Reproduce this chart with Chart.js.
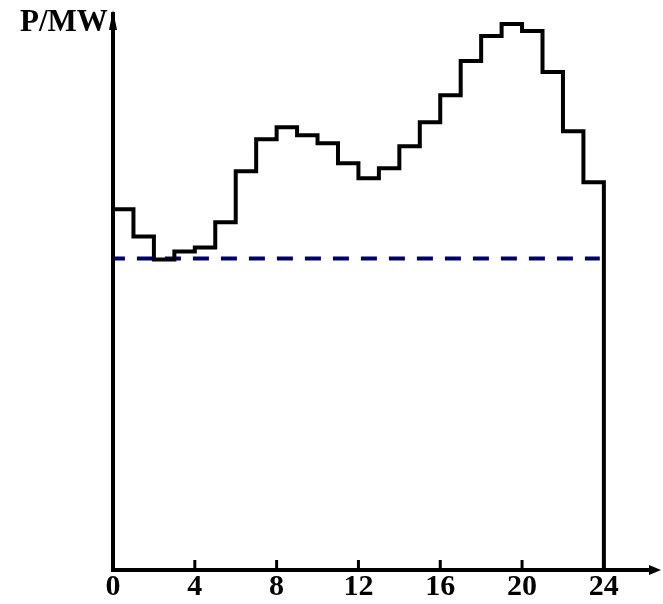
<!DOCTYPE html>
<html>
<head>
<meta charset="utf-8">
<script src="https://cdn.jsdelivr.net/npm/chart.js@4.4.1/dist/chart.umd.min.js"></script>
<style>
  html, body { margin: 0; padding: 0; background: #fff; }
  #wrap { width: 663px; height: 604px; }
</style>
</head>
<body>
<div id="wrap"><canvas id="load-chart"></canvas></div>
<script>
// hourly load, one value per hour 0..23
var hours = [0,1,2,3,4,5,6,7,8,9,10,11,12,13,14,15,16,17,18,19,20,21,22,23];
var load = [72, 66.6, 62, 63.6, 64.4, 69.4, 79.6, 86, 88.4, 86.8, 85.2, 81.2,
            78.2, 80.2, 84.6, 89.4, 94.8, 101.6, 106.6, 109, 107.6, 99.4, 87.6, 77.4];
var avgLoad = 62.2;
var xTicks = [0, 4, 8, 12, 16, 20, 24];
var yLabel = "P/MW";

var stepPoints = hours.map(function (h, i) { return { x: h, y: load[i] }; });
stepPoints.push({ x: 24, y: load[load.length - 1] });
stepPoints.push({ x: 24, y: 0 });

var axisArrows = {
  id: "axisArrows",
  afterDraw: function (chart) {
    var ctx = chart.ctx;
    var a = chart.chartArea;
    var xs = chart.scales.x;
    ctx.save();
    ctx.fillStyle = "#000";
    ctx.strokeStyle = "#000";
    // y arrow
    ctx.beginPath();
    ctx.moveTo(a.left, a.top - 4);
    ctx.lineTo(a.left - 4, a.top + 16);
    ctx.lineTo(a.left + 4, a.top + 16);
    ctx.closePath();
    ctx.fill();
    // x arrow
    ctx.beginPath();
    ctx.moveTo(a.right + 6, a.bottom);
    ctx.lineTo(a.right - 6, a.bottom - 5);
    ctx.lineTo(a.right - 6, a.bottom + 5);
    ctx.closePath();
    ctx.fill();
    // inward tick marks
    ctx.lineWidth = 3;
    xTicks.forEach(function (t) {
      if (t === 0) return;
      var px = xs.getPixelForValue(t);
      ctx.beginPath();
      ctx.moveTo(px, a.bottom);
      ctx.lineTo(px, a.bottom - 10);
      ctx.stroke();
    });
    // axis name
    ctx.font = "bold 31px 'Liberation Serif'";
    ctx.textBaseline = "top";
    ctx.textAlign = "left";
    ctx.fillText(yLabel, 20, 7);
    ctx.restore();
  }
};

var config = {
  type: "line",
  data: {
    datasets: [
      {
        label: "P",
        data: stepPoints,
        stepped: "before",
        borderColor: "#000",
        borderWidth: 4,
        pointRadius: 0,
        fill: false
      },
      {
        label: "avg",
        data: [{ x: -0.2, y: avgLoad }, { x: 23.8, y: avgLoad }],
        borderColor: "#000066",
        borderWidth: 4,
        borderDash: [16, 12],
        pointRadius: 0,
        fill: false
      }
    ]
  },
  options: {
    responsive: true,
    maintainAspectRatio: false,
    animation: false,
    layout: { padding: { left: 113, right: 8, top: 14, bottom: 0 } },
    plugins: { legend: { display: false }, tooltip: { enabled: false } },
    scales: {
      x: {
        type: "linear",
        min: 0,
        max: 26.5,
        afterBuildTicks: function (scale) {
          scale.ticks = xTicks.map(function (v) { return { value: v }; });
        },
        grid: { display: false, drawTicks: false },
        border: { display: true, color: "#000", width: 4 },
        ticks: {
          padding: 2,
          color: "#000",
          maxRotation: 0,
          autoSkip: false,
          font: { family: "'Liberation Serif'", size: 30, weight: "bold", lineHeight: 1 }
        }
      },
      y: {
        min: 0,
        max: 111,
        grid: { display: false, drawTicks: false },
        border: { display: true, color: "#000", width: 4 },
        ticks: { display: false }
      }
    }
  },
  plugins: [axisArrows]
};

window.onload = function () {
  var ctx = document.getElementById("load-chart").getContext("2d");
  window.loadChart = new Chart(ctx, config);
};
</script>
</body>
</html>
